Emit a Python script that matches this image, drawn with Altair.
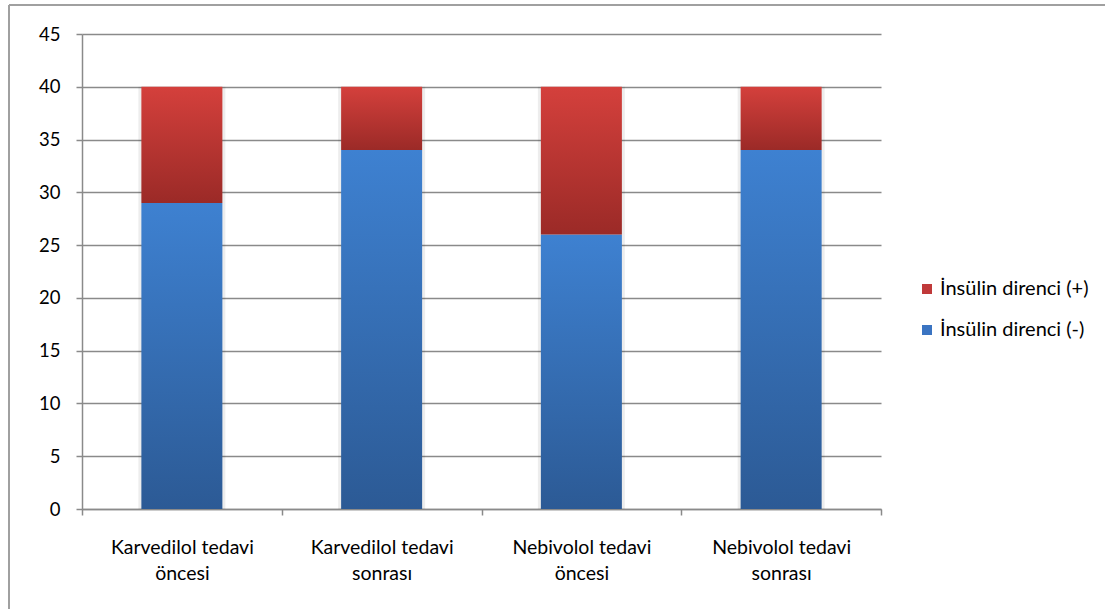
import altair as alt
import pandas as pd

# Kategoriler ve seriler
categories = [
    "Karvedilol tedavi öncesi",
    "Karvedilol tedavi sonrası",
    "Nebivolol tedavi öncesi",
    "Nebivolol tedavi sonrası",
]
series = ["İnsülin direnci (+)", "İnsülin direnci (-)"]
resistance_pos = [11, 6, 14, 6]
resistance_neg = [29, 34, 26, 34]
y_ticks = [0, 5, 10, 15, 20, 25, 30, 35, 40, 45]

wide = pd.DataFrame({"kategori": categories, "neg": resistance_neg, "pos": resistance_pos})
wide["top"] = wide["neg"] + wide["pos"]
long = pd.DataFrame({
    "kategori": categories * 2,
    "seri": [series[0]] * len(categories) + [series[1]] * len(categories),
    "deger": resistance_pos + resistance_neg,
})

W, H = 799, 475
FONT = "Lato"
BAR_W = 81

red_grad = alt.Gradient(
    gradient="linear", x1=0, x2=0, y1=0, y2=1,
    stops=[alt.GradientStop(color="#d4403c", offset=0),
           alt.GradientStop(color="#9b2a27", offset=1)],
)
blue_grad = alt.Gradient(
    gradient="linear", x1=0, x2=0, y1=0, y2=1,
    stops=[alt.GradientStop(color="#3e81d1", offset=0),
           alt.GradientStop(color="#2c5a95", offset=1)],
)

x_enc = alt.X(
    "kategori:N", sort=categories, title=None,
    scale=alt.Scale(paddingInner=0, paddingOuter=0),
    axis=alt.Axis(
        labelAngle=0, grid=False, tickBand="extent", tickSize=6,
        labelPadding=23, labelLineHeight=26, labelBaseline="top",
        labelFontSize=19.5,
        labelExpr="[substring(datum.label, 0, lastindexof(datum.label, ' ')), "
                  "substring(datum.label, lastindexof(datum.label, ' ') + 1)]",
    ),
)
y_scale = alt.Scale(domain=[0, 45], nice=False)
y_axis = alt.Axis(values=y_ticks, tickSize=6, labelPadding=16, grid=True, title=None,
                  labelFontSize=18.5)

shadow = alt.Chart(wide).mark_bar(width=BAR_W + 6, color="#000000", opacity=0.07).encode(
    x=x_enc,
    y=alt.Y("top:Q", scale=y_scale, axis=y_axis),
)

blue = alt.Chart(wide).mark_bar(width=BAR_W, fill=blue_grad).encode(
    x=x_enc,
    y=alt.Y("neg:Q", scale=y_scale, axis=y_axis),
)

red = alt.Chart(wide).mark_bar(width=BAR_W, fill=red_grad).encode(
    x=x_enc,
    y=alt.Y("neg:Q", scale=y_scale, axis=y_axis),
    y2="top:Q",
)

legend_layer = alt.Chart(long).mark_bar(width=BAR_W, opacity=0).encode(
    x=x_enc,
    y=alt.Y("deger:Q", stack="zero", scale=y_scale, axis=y_axis),
    color=alt.Color(
        "seri:N",
        scale=alt.Scale(domain=series, range=["#c0393a", "#3a74c2"]),
        legend=alt.Legend(
            title=None, orient="none", legendX=835, legendY=245,
            symbolType="square", symbolSize=100, symbolOpacity=1,
            symbolStrokeWidth=0, rowPadding=21, labelOffset=3,
            labelFont=FONT, labelFontSize=20, labelColor="#000000",
        ),
    ),
    order=alt.Order("seri:N", sort="descending"),
)

frame_left = alt.Chart(alt.Data(values=[{}])).mark_rule(color="#a0a0a0", strokeWidth=2).encode(
    x=alt.value(-73), y=alt.value(-29), y2=alt.value(H + 120)
)
frame_top = alt.Chart(alt.Data(values=[{}])).mark_rule(color="#a0a0a0", strokeWidth=2).encode(
    x=alt.value(-73), x2=alt.value(W + 300), y=alt.value(-29)
)

chart = (
    alt.layer(shadow, blue, red, legend_layer, frame_left, frame_top)
    .properties(
        width=W, height=H,
        autosize=alt.AutoSizeParams(type="none"),
        padding={"left": 82, "top": 34, "right": 1105 - 82 - W, "bottom": 609 - 34 - H},
        background="#ffffff",
    )
    .configure_view(stroke=None)
    .configure_axis(
        domainColor="#8a8a8a", domainWidth=1.5,
        tickColor="#8a8a8a", tickWidth=1.5,
        gridColor="#8a8a8a", gridWidth=1.5,
        labelFont=FONT, labelColor="#000000",
    )
)

chart.save("out.html", embed_options={"renderer": "svg", "actions": False})
